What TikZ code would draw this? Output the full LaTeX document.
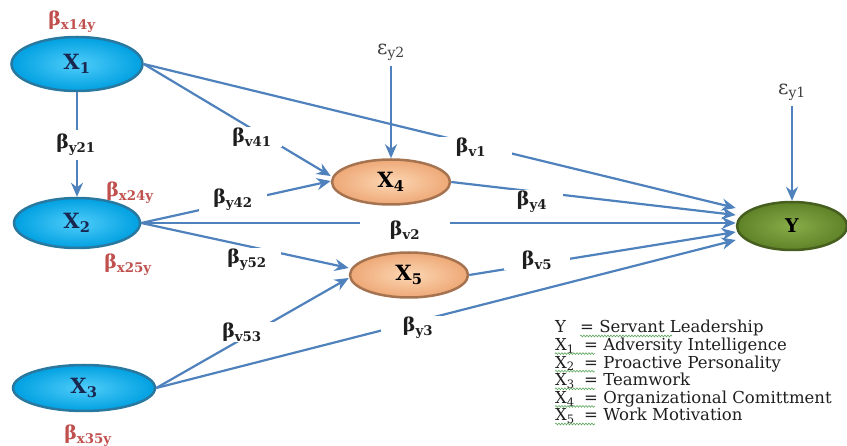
\documentclass[tikz,border=0pt]{standalone}
\usepackage{fontspec}
\setmainfont{DejaVu Serif}
\usetikzlibrary{shapes.geometric,arrows.meta,decorations.pathmorphing}
\definecolor{pathblue}{RGB}{79,129,189}
\definecolor{xblue}{RGB}{0,160,225}
\definecolor{xbluelight}{RGB}{80,205,250}
\definecolor{xbluedark}{RGB}{40,120,160}
\definecolor{xtext}{RGB}{25,40,80}
\definecolor{xpeach}{RGB}{238,168,118}
\definecolor{xpeachlight}{RGB}{252,215,180}
\definecolor{xpeachdark}{RGB}{165,115,80}
\definecolor{ygreen}{RGB}{95,130,40}
\definecolor{ygreenlight}{RGB}{135,172,72}
\definecolor{ygreendark}{RGB}{70,95,30}
\definecolor{labred}{RGB}{192,80,77}
\definecolor{labblack}{RGB}{30,30,30}
\definecolor{spellgreen}{RGB}{90,165,90}

\newcommand{\coef}[1]{{\bfseries β\textsubscript{#1}}}
\newcommand{\err}[1]{ε\textsubscript{#1}}

\begin{document}
\begin{tikzpicture}[x=1pt,y=-1pt,
    exo/.style={ellipse, draw=xbluedark, line width=2.5pt, inner color=xbluelight, outer color=xblue,
        text=xtext, font=\fontsize{21}{21}\selectfont\bfseries, inner sep=0pt},
    mediator/.style={ellipse, draw=xpeachdark, line width=2.5pt, inner color=xpeachlight, outer color=xpeach,
        text=black, font=\fontsize{21}{21}\selectfont\bfseries, minimum width=118pt, minimum height=45pt, inner sep=0pt},
    outcome/.style={ellipse, draw=ygreendark, line width=2.5pt, inner color=ygreenlight, outer color=ygreen,
        text=black, font=\fontsize{19}{19}\selectfont\bfseries, minimum width=110pt, minimum height=48pt, inner sep=0pt},
    path/.style={draw=pathblue, line width=2.2pt, -{Stealth[length=14pt,width=12pt]}},
    coeflab/.style={fill=white, inner xsep=8pt, inner ysep=1pt, text=labblack, font=\fontsize{19}{21}\selectfont},
    effectlab/.style={text=labred, font=\fontsize{19}{21}\selectfont},
    errlab/.style={text=labblack!85, font=\fontsize{20}{22}\selectfont, inner sep=5pt},
    legend/.style={anchor=base west, inner sep=0pt, text=labblack, font=\fontsize{16.5}{18}\selectfont},
    spell/.style={draw=spellgreen, line width=0.6pt, decorate, decoration={snake, segment length=3pt, amplitude=0.9pt}}
]
\useasboundingbox (0,0) rectangle (847,446);

% variables
\node[exo, minimum width=131pt, minimum height=54pt] (x1) at (77,64) {X\textsubscript{1}};
\node[exo, minimum width=126pt, minimum height=50pt] (x2) at (77,223) {X\textsubscript{2}};
\node[exo, minimum width=142pt, minimum height=46pt] (x3) at (84,388) {X\textsubscript{3}};
\node[mediator] (x4) at (391,182) {X\textsubscript{4}};
\node[mediator] (x5) at (409,275) {X\textsubscript{5}};
\node[outcome] (y) at (792,226) {Y};

% error terms
\node[errlab] (ey2) at (391,52) {\err{y2}};
\node[errlab] (ey1) at (792,92) {\err{y1}};

% paths
\draw[path] (x1.south) -- (x2.north);
\draw[path] (x1.east) -- ([yshift=6pt]x4.west);
\draw[path] (x1.east) -- ([yshift=18pt]y.west);
\draw[path] (x2.east) -- ([yshift=1pt]x4.west);
\draw[path] (x2.east) -- ([yshift=3pt]y.west);
\draw[path] (x2.east) -- ([yshift=7pt]x5.west);
\draw[path] (x3.east) -- ([yshift=-3pt]x5.west);
\draw[path] (x3.east) -- ([yshift=-14pt]y.west);
\draw[path] (x4.east) -- ([yshift=11pt]y.west);
\draw[path] (x5.east) -- ([yshift=-6pt]y.west);
\draw[path] (ey2) -- (x4.north);
\draw[path] (ey1) -- (y.north);

% coefficients
\node[coeflab, inner ysep=4pt] (by21) at (76,145) {\coef{y21}};
\node[coeflab, inner xsep=10pt] (bv41) at (252,137) {\coef{v41}};
\node[coeflab, inner xsep=14pt] (by42) at (233,200) {\coef{y42}};
\node[coeflab, inner xsep=30pt] (bv2) at (405,230) {\coef{v2}};
\node[coeflab, inner xsep=14pt] (by52) at (247,260) {\coef{y52}};
\node[coeflab, inner xsep=14pt] (bv53) at (242,332) {\coef{v53}};
\node[coeflab, inner xsep=26pt] (bv1) at (471,147) {\coef{v1}};
\node[coeflab, inner xsep=16pt] (by4) at (532,202) {\coef{y4}};
\node[coeflab, inner xsep=18pt] (bv5) at (537,260) {\coef{v5}};
\node[coeflab, inner xsep=22pt] (by3) at (418,328) {\coef{y3}};

% indirect effects
\node[effectlab] (bx14y) at (72,22) {\coef{x14y}};
\node[effectlab] (bx24y) at (130,193) {\coef{x24y}};
\node[effectlab] (bx25y) at (128,265) {\coef{x25y}};
\node[effectlab] (bx35y) at (88,436) {\coef{x35y}};

% legend
\node[legend] (keyy) at (555,333) {Y};
\node[legend] (legy) at (580,333) {= Servant Leadership};
\draw[spell] ([yshift=-3pt]legy.base west) -- ++(92,0);
\foreach \t [count=\i, evaluate=\i as \yb using 333+17.6*\i] in
    {Adversity Intelligence, Proactive Personality, Teamwork, Organizational Comittment, Work Motivation}{
  \node[legend] (key\i) at (555,\yb) {X\textsubscript{\i}};
  \node[legend] (leg\i) at (584,\yb) {= \t};
  \draw[spell] ([yshift=-3pt]key\i.base west) -- ([yshift=-3pt,xshift=11pt]leg\i.base west);
}
\end{tikzpicture}
\end{document}
